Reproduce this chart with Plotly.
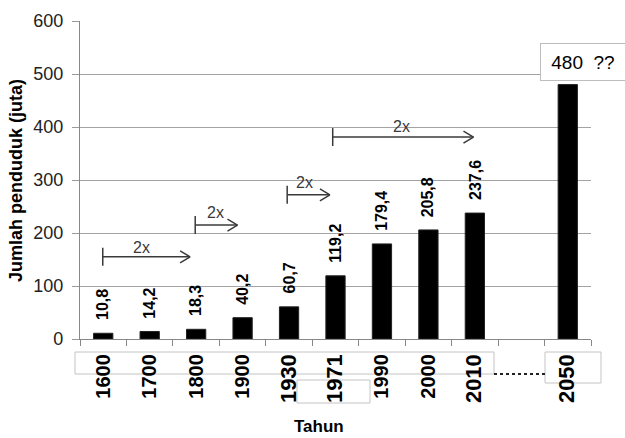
import plotly.graph_objects as go

# Population of Indonesia (millions) by year; the 2050 value is a projection
years = ["1600", "1700", "1800", "1900", "1930", "1971", "1990", "2000", "2010", "gap", "2050"]
population = [10.8, 14.2, 18.3, 40.2, 60.7, 119.2, 179.4, 205.8, 237.6, None, 480]
census_years = {"1930", "1971", "2010", "2050"}
y_ticks = [0, 100, 200, 300, 400, 500, 600]

# Doubling arrows: (start index, tip index, level in millions)
doubling = [(-0.01, 1.87, 155), (1.98, 2.89, 215), (3.96, 4.88, 272), (4.94, 7.97, 381)]
doubling_text_x = [0.83, 2.41, 4.34, 6.41]
doubling_text_shift = [9, 13, 12, 11]

W, H = 625, 438
L, R, T, B = 80, 34, 21, 99
PW, PH = W - L - R, H - T - B


def px(xp):
    return (xp - L) / PW


def py(yp):
    return (H - B - yp) / PH


FONT = "Arial, Liberation Sans, sans-serif"
GRID = "#a3a3a3"
INK = "#3a3a3a"

fig = go.Figure()
fig.add_trace(go.Bar(
    x=years, y=population, width=0.415,
    marker=dict(color="black", line=dict(color="#222", width=1)),
    hoverinfo="x+y",
))

ticktext = []
for yr in years:
    if yr == "gap":
        ticktext.append("")
    elif yr in census_years:
        ticktext.append(f"<span style='font-size:22px'><b>{yr}</b></span>")
    else:
        ticktext.append(f"<b>{yr}</b>")

annotations = []
# value labels above bars (x given as category index)
for i, (yr, v) in enumerate(zip(years, population)):
    if v is None or yr == "2050":
        continue
    annotations.append(dict(
        x=i, y=v, xref="x", yref="y", text="<b>" + f"{v:.1f}".replace(".", ",") + "</b>",
        textangle=-90, showarrow=False, xanchor="center", yanchor="bottom", yshift=11,
        font=dict(family=FONT, size=16, color="black"),
    ))

# projected value callout for 2050
v2050 = population[years.index("2050")]
annotations.append(dict(
    x=px(583), y=py(62), xref="paper", yref="paper", text=f"{v2050:.0f}  ??",
    showarrow=False, xanchor="center", yanchor="middle",
    font=dict(family=FONT, size=19, color="black"),
    bordercolor="#bdbdbd", borderwidth=1, bgcolor="white",
    width=82, height=34,
))

for (x0, x1, lvl), tx, ts in zip(doubling, doubling_text_x, doubling_text_shift):
    annotations.append(dict(
        x=tx, y=lvl, xref="x", yref="y", text="2x", showarrow=False,
        yshift=ts, font=dict(family=FONT, size=16, color=INK),
    ))

annotations.append(dict(
    x=px(319), y=py(426), xref="paper", yref="paper", text="<b>Tahun</b>",
    showarrow=False, xanchor="center", yanchor="middle",
    font=dict(family=FONT, size=17, color="black"),
))
annotations.append(dict(
    x=px(16), y=py(181), xref="paper", yref="paper", text="<b>Jumlah penduduk (juta)</b>",
    textangle=-90, showarrow=False, xanchor="center", yanchor="middle",
    font=dict(family=FONT, size=18, color="black"),
))

shapes = []
for x0, x1, lvl in doubling:
    line = dict(color=INK, width=1.5)
    shapes.append(dict(type="line", xref="x", yref="y", x0=x0, x1=x1, y0=lvl, y1=lvl, line=line))
    shapes.append(dict(type="line", xref="x", yref="y", xsizemode="pixel", ysizemode="pixel",
                       xanchor=x0, yanchor=lvl, x0=0, x1=0, y0=-9, y1=9, line=line))
    for s in (-6, 6):
        shapes.append(dict(type="line", xref="x", yref="y", xsizemode="pixel", ysizemode="pixel",
                           xanchor=x1, yanchor=lvl, x0=-10, x1=0, y0=s, y1=0, line=line))

box = dict(color="#c4c4c4", width=1)
shapes += [
    dict(type="rect", xref="paper", yref="paper", x0=px(75), x1=px(494), y0=py(374), y1=py(352), line=box, layer="below"),
    dict(type="rect", xref="paper", yref="paper", x0=px(297), x1=px(370), y0=py(403), y1=py(380), line=box, layer="below"),
    dict(type="rect", xref="paper", yref="paper", x0=px(545), x1=px(601), y0=py(383), y1=py(352), line=box, layer="below"),
    dict(type="line", xref="paper", yref="paper", x0=px(494), x1=px(545), y0=py(374), y1=py(374),
         line=dict(color="#222", width=2, dash="dot")),
]

fig.update_layout(
    width=W, height=H, margin=dict(l=L, r=R, t=T, b=B, autoexpand=False),
    plot_bgcolor="white", paper_bgcolor="white", showlegend=False,
    font=dict(family=FONT, color="black"),
    annotations=annotations, shapes=shapes,
    xaxis=dict(
        type="category", categoryorder="array", categoryarray=years, range=[-0.5, len(years) - 0.5],
        tickmode="array", tickvals=years, ticktext=ticktext, tickangle=-90,
        tickson="boundaries", ticks="outside", ticklen=6, tickcolor="#888",
        showline=True, linecolor="#888", linewidth=1.3, showgrid=False,
        tickfont=dict(family=FONT, size=20, color="black"), ticklabelstandoff=6,
    ),
    yaxis=dict(
        range=[0, 600], tickvals=y_ticks, ticks="outside", ticklen=7, tickcolor="#999",
        showline=True, linecolor="#888", linewidth=1.3, showgrid=True, gridcolor=GRID,
        gridwidth=1.3, zeroline=False, tickfont=dict(family=FONT, size=18, color="#222"),
        ticklabelstandoff=5,
    ),
)

fig.write_html("out.html")
